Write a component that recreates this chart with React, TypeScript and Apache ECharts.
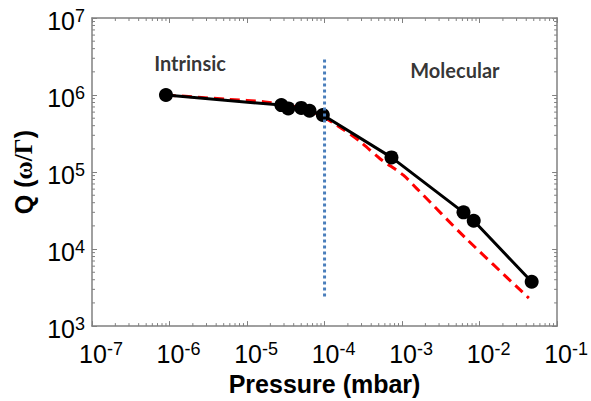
import React, { useEffect, useRef } from "react";
import * as echarts from "echarts";

// Tick label exponents
const xExponents = ["-7", "-6", "-5", "-4", "-3", "-2", "-1"];
const yExponents = ["3", "4", "5", "6", "7"];

// Measured Q vs pressure (black dots)
const measuredPressure = [9e-7, 2.77e-5, 3.4e-5, 5.0e-5, 6.4e-5, 9.5e-5, 7.3e-4, 6.2e-3, 8.4e-3, 0.047];
const measuredQ = [1.0e6, 7.4e5, 6.7e5, 6.8e5, 6.24e5, 5.5e5, 1.55e5, 3.0e4, 2.33e4, 3.76e3];

// Model curve (red dashed)
const modelPressure = [9e-7, 5.8e-6, 1.7e-5, 4.5e-5, 8.2e-5, 1.47e-4, 2.9e-4, 5.2e-4, 1.04e-3, 1.55e-3, 6.7e-3, 0.0432];
const modelQ = [1.0e6, 8.8e5, 8.15e5, 6.95e5, 5.65e5, 4.0e5, 2.47e5, 1.49e5, 9.1e4, 6.1e4, 1.37e4, 2.31e3];

// Regime boundary (blue dotted)
const boundaryPressure = [1e-4, 1e-4];
const boundaryQ = [2.43e3, 3.06e6];

// Annotations
const annotationText = ["Intrinsic", "Molecular"];
const annotationPressure = [1.84e-6, 4.8e-3];
const annotationQ = [2.64e6, 2.14e6];

const X_MIN = 1e-7, X_MAX = 1e-1, Y_MIN = 1e3, Y_MAX = 1e7;

function expLabel(v: number) {
  const e = Math.round(Math.log10(v));
  return `{b|10}{s|${e}}`;
}

const xDecades = xExponents.map((e) => Number(e));
const yDecades = yExponents.map((e) => Number(e));
const minorX: number[][] = [];
for (const d of xDecades.slice(0, -1)) for (let m = 2; m <= 9; m++) minorX.push([m * Math.pow(10, d), Y_MIN]);
const minorY: number[][] = [];
for (const d of yDecades.slice(0, -1)) for (let m = 2; m <= 9; m++) minorY.push([X_MIN, m * Math.pow(10, d)]);

const AXIS_COLOR = "#808080";
const richLabel = {
  b: { fontSize: 25, fontFamily: "Liberation Sans, Arial, sans-serif", color: "#000", lineHeight: 30, verticalAlign: "bottom" },
  s: { fontSize: 18, fontFamily: "Liberation Sans, Arial, sans-serif", color: "#000", lineHeight: 30, verticalAlign: "bottom", padding: [0, 0, 8, 0] },
};

export default function App() {
  const ref = useRef<HTMLDivElement>(null);
  useEffect(() => {
    if (!ref.current) return;
    const chart = echarts.init(ref.current, undefined, { renderer: "svg" });
    const minorLen = 3;
    const option: any = {
      animation: false,
      backgroundColor: "#fff",
      grid: { left: 92, top: 18, right: 29, bottom: 72, containLabel: false },
      xAxis: [
        {
          type: "log", logBase: 10, min: X_MIN, max: X_MAX, position: "bottom",
          name: "Pressure (mbar)", nameLocation: "middle", nameGap: 42,
          nameTextStyle: { fontSize: 25, fontWeight: "bold", fontFamily: "Liberation Sans, Arial, sans-serif", color: "#000" },
          axisLine: { lineStyle: { color: AXIS_COLOR, width: 1.5 } },
          axisTick: { inside: true, length: 5, lineStyle: { color: AXIS_COLOR } },
          axisLabel: { formatter: expLabel, rich: richLabel, margin: 10, padding: [0, 0, 0, 18] },
          splitLine: { show: false },
        },
        {
          type: "log", logBase: 10, min: X_MIN, max: X_MAX, position: "top",
          axisLine: { lineStyle: { color: AXIS_COLOR, width: 1.5 } },
          axisTick: { inside: true, length: 5, lineStyle: { color: AXIS_COLOR } },
          axisLabel: { show: false },
          splitLine: { show: false },
        },
      ],
      yAxis: [
        {
          type: "log", logBase: 10, min: Y_MIN, max: Y_MAX, position: "left",
          name: "{q|Q (}{g|ω/Γ}{q|)}", nameLocation: "middle", nameGap: 56, nameRotate: 90,
          nameTextStyle: {
            rich: {
              q: { fontSize: 25, fontWeight: "bold", fontFamily: "Liberation Sans, Arial, sans-serif", color: "#000" },
              g: { fontSize: 25, fontWeight: "bold", fontFamily: "Liberation Serif, serif", color: "#000" },
            },
          },
          axisLine: { lineStyle: { color: AXIS_COLOR, width: 1.5 } },
          axisTick: { inside: true, length: 5, lineStyle: { color: AXIS_COLOR } },
          axisLabel: { formatter: expLabel, rich: richLabel, margin: 7 },
          splitLine: { show: false },
        },
        {
          type: "log", logBase: 10, min: Y_MIN, max: Y_MAX, position: "right",
          axisLine: { lineStyle: { color: AXIS_COLOR, width: 1.5 } },
          axisTick: { inside: true, length: 5, lineStyle: { color: AXIS_COLOR } },
          axisLabel: { show: false },
          splitLine: { show: false },
        },
      ],
      series: [
        {
          type: "custom", silent: true, xAxisIndex: 0, yAxisIndex: 0, data: minorX,
          renderItem: (params: any, api: any) => {
            const x = api.value(0);
            const b = api.coord([x, Y_MIN]);
            const t = api.coord([x, Y_MAX]);
            const st = { stroke: AXIS_COLOR, lineWidth: 1 };
            return {
              type: "group",
              children: [
                { type: "line", shape: { x1: b[0], y1: b[1], x2: b[0], y2: b[1] - minorLen }, style: st },
                { type: "line", shape: { x1: t[0], y1: t[1], x2: t[0], y2: t[1] + minorLen }, style: st },
              ],
            };
          },
        },
        {
          type: "custom", silent: true, xAxisIndex: 0, yAxisIndex: 0, data: minorY,
          renderItem: (params: any, api: any) => {
            const y = api.value(1);
            const l = api.coord([X_MIN, y]);
            const r = api.coord([X_MAX, y]);
            const st = { stroke: AXIS_COLOR, lineWidth: 1 };
            return {
              type: "group",
              children: [
                { type: "line", shape: { x1: l[0], y1: l[1], x2: l[0] + minorLen, y2: l[1] }, style: st },
                { type: "line", shape: { x1: r[0], y1: r[1], x2: r[0] - minorLen, y2: r[1] }, style: st },
              ],
            };
          },
        },
        {
          type: "line", name: "model", showSymbol: false, symbol: "none", smooth: 0.3,
          data: modelPressure.map((p, i) => [p, modelQ[i]]),
          lineStyle: { color: "#ff0000", width: 3, type: [10, 6] },
          z: 3,
        },
        {
          type: "line", name: "measured", symbol: "circle", symbolSize: 14,
          data: measuredPressure.map((p, i) => [p, measuredQ[i]]),
          lineStyle: { color: "#000", width: 3 },
          itemStyle: { color: "#000" },
          z: 4,
        },
        {
          type: "line", name: "boundary", symbol: "none",
          data: boundaryPressure.map((p, i) => [p, boundaryQ[i]]),
          lineStyle: { color: "#4a7ebb", width: 3, type: [3, 3] },
          z: 5,
        },
        {
          type: "scatter", symbolSize: 0,
          data: annotationPressure.map((p, i) => ({ value: [p, annotationQ[i]], name: annotationText[i] })),
          label: {
            show: true, position: "inside", formatter: "{b}",
            fontSize: 20, fontWeight: "bold", fontFamily: "Lato, 'Open Sans', sans-serif", color: "#000",
          },
          z: 6,
        },
      ],
    };
    chart.setOption(option);
    return () => chart.dispose();
  }, []);
  return <div ref={ref} style={{ width: 591, height: 401, position: "absolute", left: 0, top: 0 }} />;
}
